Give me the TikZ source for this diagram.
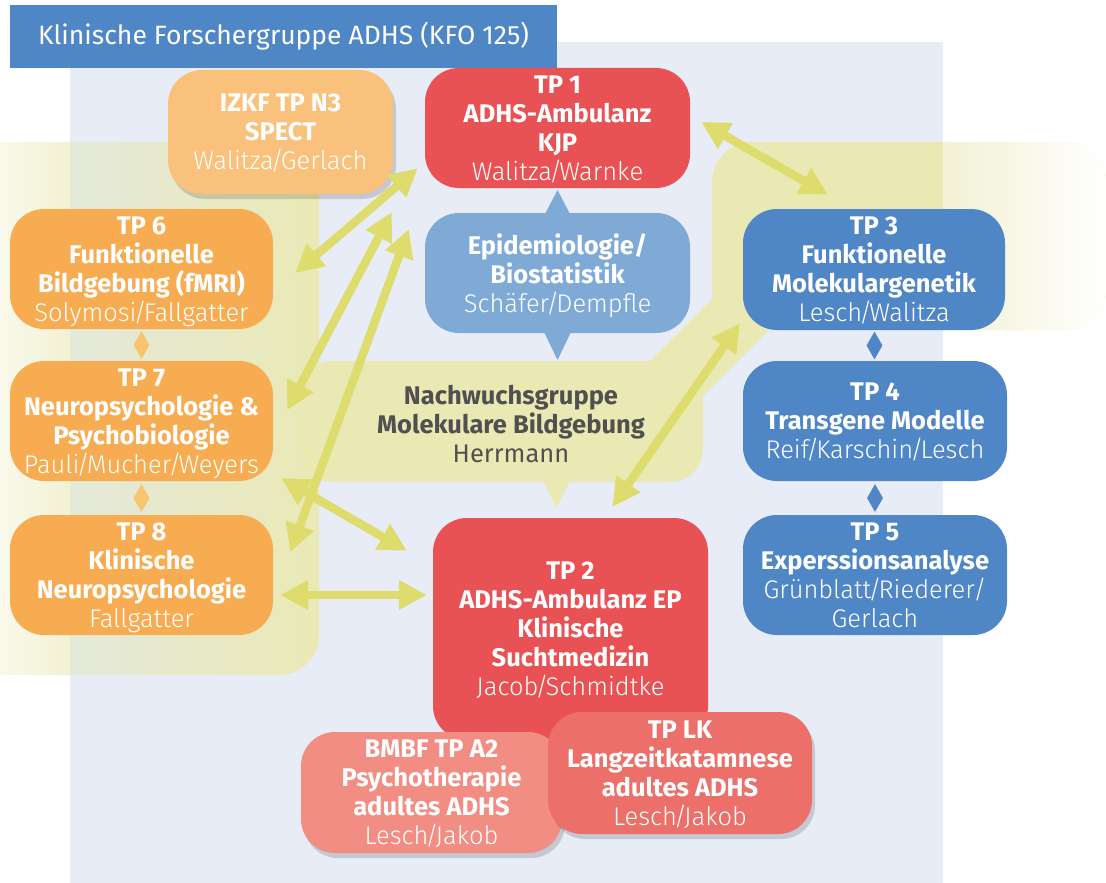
\documentclass[tikz,border=0pt]{standalone}
\usepackage{fontspec}
\setmainfont{Fira Sans}
\newfontfamily\lightfont{Fira Sans Light}
\usetikzlibrary{arrows.meta,shapes.geometric,shadows,calc}

\definecolor{kfoblue}{HTML}{4F86C6}
\definecolor{bgblue}{HTML}{E8ECF7}
\definecolor{band}{HTML}{EAE9B4}
\definecolor{bandpale}{HTML}{FAF9EB}
\definecolor{bandwhite}{HTML}{F2F1D4}
\definecolor{bandgrey}{HTML}{E5E9DA}
\definecolor{linkgreen}{HTML}{DDDC6C}
\definecolor{tpred}{HTML}{E95254}
\definecolor{epiblue}{HTML}{80AAD6}
\definecolor{tporange}{HTML}{F7AC52}
\definecolor{izkforange}{HTML}{F9C17B}
\definecolor{diaorange}{HTML}{F9C46E}
\definecolor{bmbfred}{HTML}{F18D83}
\definecolor{lkred}{HTML}{EC6F69}
\definecolor{nwgrey}{HTML}{505050}

\newcommand{\who}[1]{{\mdseries\lightfont #1}}
\newcommand{\sep}{\kern-3pt/\kern-3pt}

\tikzset{
  tpbox/.style={rounded corners=34pt, minimum width=263pt, minimum height=120pt,
    inner sep=0pt, align=center, text=white, text depth=0pt,
    font=\fontsize{25.5}{29}\selectfont\bfseries},
  biarrow/.style={draw=linkgreen, line width=8.5pt,
    {Triangle[length=28pt,width=28pt]}-{Triangle[length=28pt,width=28pt]}},
  softshadow/.style={drop shadow={shadow xshift=3pt, shadow yshift=-5pt,
    opacity=0.15, fill=black}},
  tiny diamond/.style={diamond, inner sep=0pt, minimum width=16pt, minimum height=28pt}
}

\begin{document}
\begin{tikzpicture}[x=1pt,y=-1pt]
\useasboundingbox (0,0) rectangle (1106,883);

% background and yellow bands
\fill[bgblue] (70,42) rectangle (943,883);
\begin{scope}
  \clip[rounded corners=40pt] (-60,142) rectangle (319,675);
  \shade[left color=bandpale, right color=bandwhite] (0,130) rectangle (70,690);
  \shade[left color=bandgrey, right color=band] (70,130) rectangle (330,690);
\end{scope}
\fill[band, rounded corners=33pt] (300,361) rectangle (703,482);
\fill[band] (650,361) -- (712,299) -- (800,299) -- (800,330) -- (769,330)
  -- (703,396) -- (650,396) -- cycle;
\fill[band, rounded corners=40pt] (712,142) rectangle (1106,330);
\begin{scope}
  \clip[rounded corners=40pt] (712,142) rectangle (1106,330);
  \shade[left color=bandwhite, right color=white] (943,130) rectangle (1106,340);
\end{scope}
\fill[band] (543,481) -- (570,481) -- (556.5,508) -- cycle;

% header
\node[fill=kfoblue, minimum width=547pt, minimum height=63pt, inner sep=0pt,
  text=white, font=\fontsize{26.5}{30}\selectfont] (kfo) at (283.5,36.5)
  {Klinische Forschergruppe ADHS (KFO 125)};

% projects
\node[tpbox, fill=izkforange, softshadow, minimum width=225pt, minimum height=124pt]
  (izkf) at (280.5,132) {IZKF TP N3\\SPECT\\\who{Walitza\sep Gerlach}};
\node[tpbox, fill=tpred, minimum width=265pt] (tp1) at (557.5,128)
  {TP 1\\ADHS-Ambulanz\\KJP\\\who{Walitza\sep Warnke}};
\fill[epiblue] (557.5,213) ++(-12,0) -- ++(12,-23) -- ++(12,23) -- cycle;
\fill[epiblue] (557.5,333) ++(-13,0) -- ++(13,27) -- ++(13,-27) -- cycle;
\node[tpbox, fill=epiblue, minimum width=265pt] (epi) at (557.5,273)
  {Epidemiologie/\\Biostatistik\\\who{Schäfer\sep Dempfle}};

\node[tpbox, fill=kfoblue, minimum width=262pt, minimum height=121pt] (tp3) at (874,269.5)
  {TP 3\\Funktionelle\\Molekulargenetik\\\who{Lesch\sep Walitza}};
\node[tpbox, fill=kfoblue, minimum width=264pt] (tp4) at (875,421)
  {TP 4\\Transgene Modelle\\\who{Reif\sep Karschin\sep Lesch}};
\node[tpbox, fill=kfoblue, minimum width=264pt] (tp5) at (875,575)
  {TP 5\\Experssionsanalyse\\\who{Grünblatt\sep Riederer/}\\\who{Gerlach}};
\node[tiny diamond, fill=kfoblue] (d34) at ($(tp3.south)!0.5!(tp4.north)$) {};
\node[tiny diamond, fill=kfoblue] (d45) at ($(tp4.south)!0.5!(tp5.north)$) {};

\node[tpbox, fill=tporange] (tp6) at (141.5,269)
  {TP 6\\Funktionelle\\Bildgebung (fMRI)\\\who{Solymosi\sep Fallgatter}};
\node[tpbox, fill=tporange] (tp7) at (141.5,421)
  {TP 7\\Neuropsychologie \&\\Psychobiologie\\\who{Pauli\sep Mucher\sep Weyers}};
\node[tpbox, fill=tporange] (tp8) at (141.5,575)
  {TP 8\\Klinische\\Neuropsychologie\\\who{Fallgatter}};
\node[tiny diamond, fill=diaorange] (d67) at ($(tp6.south)!0.5!(tp7.north)$) {};
\node[tiny diamond, fill=diaorange] (d78) at ($(tp7.south)!0.5!(tp8.north)$) {};

\node[align=center, text=nwgrey, font=\fontsize{25.5}{29}\selectfont\bfseries]
  (nwg) at (511,424) {Nachwuchsgruppe\\Molekulare Bildgebung\\{\mdseries Herrmann}};

\node[tpbox, fill=tpred, minimum width=275pt, minimum height=222pt] (tp2) at (570.5,629)
  {TP 2\\ADHS-Ambulanz EP\\Klinische\\Suchtmedizin\\\who{Jacob\sep Schmidtke}};
\node[tpbox, fill=bmbfred, softshadow, minimum width=261pt, minimum height=121pt]
  (bmbf) at (431.5,792.5) {BMBF TP A2\\Psychotherapie\\adultes ADHS\\\who{Lesch\sep Jakob}};
\node[tpbox, fill=lkred, softshadow, minimum width=264pt, minimum height=122pt]
  (tplk) at (680,773) {TP LK\\Langzeitkatamnese\\adultes ADHS\\\who{Lesch\sep Jakob}};

% links
\draw[biarrow] ([shift={(11,-6)}]tp1.east) -- ([shift={(-46,-14)}]tp3.north);
\draw[biarrow] ([shift={(-7,-20)}]tp1.south west) -- ([shift={(22,4)}]tp6.east);
\draw[biarrow] ([shift={(-33,24)}]tp1.south west) -- ([shift={(14,-11)}]tp7.east);
\draw[biarrow] ([shift={(-16,41)}]tp1.south west) -- ([shift={(17,-23)}]tp8.east);
\draw[biarrow] ([shift={(8,-3)}]tp7.south east) -- ([shift={(-26,33)}]tp2.north west);
\draw[biarrow] ([shift={(7,20)}]tp8.east) -- ([shift={(-6,-34)}]tp2.west);
\draw[biarrow] ([shift={(-3,-7)}]tp3.south west) -- ([shift={(42,-11)}]tp2.north);
\end{tikzpicture}
\end{document}
